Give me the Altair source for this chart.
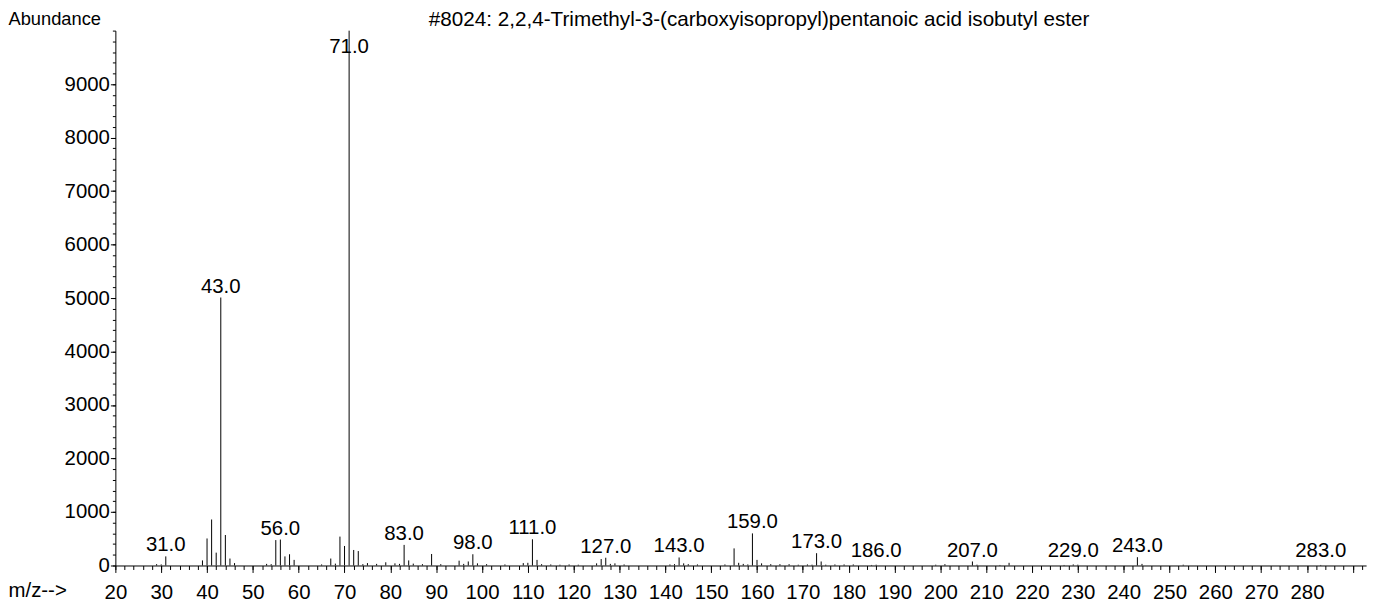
import altair as alt
import pandas as pd

# ---- data ----
mz = [29, 30, 31, 39, 40, 41, 42, 43, 44, 45, 46, 53, 54, 55, 56, 57, 58, 59,
      65, 67, 68, 69, 70, 71, 72, 73, 74, 75, 77, 79, 81, 82, 83, 84, 85, 87,
      89, 91, 95, 96, 97, 98, 99, 101, 105, 109, 110, 111, 112, 113, 115, 117,
      119, 121, 125, 126, 127, 128, 129, 131, 141, 142, 143, 144, 145, 147,
      153, 155, 156, 157, 158, 159, 160, 161, 163, 165, 167, 169, 171, 172,
      173, 174, 175, 177, 179, 181, 185, 186, 199, 201, 207, 208, 213, 215,
      227, 229, 230, 243, 244, 253, 283]
abundance = [25, 20, 170, 95, 505, 860, 240, 5010, 570, 130, 45, 30, 25, 475, 485, 170, 210, 105,
             20, 130, 35, 540, 365, 9999, 290, 270, 25, 45, 30, 60, 40, 30, 385, 95, 35, 25,
             215, 25, 90, 30, 75, 210, 40, 25, 20, 45, 50, 490, 105, 25, 20, 15,
             20, 15, 40, 120, 145, 30, 40, 20, 20, 25, 150, 40, 25, 20,
             20, 320, 50, 30, 20, 600, 105, 40, 25, 25, 25, 15, 20, 15,
             230, 75, 15, 20, 20, 20, 10, 15, 15, 25, 75, 15, 10, 50,
             10, 20, 15, 155, 30, 15, 10]
label_mz = [31, 43, 56, 71, 83, 98, 111, 127, 143, 159, 173, 186, 207, 229, 243, 283]
title_text = "#8024: 2,2,4-Trimethyl-3-(carboxyisopropyl)pentanoic acid isobutyl ester"
x_major = list(range(20, 291, 10))
x_minor = list(range(20, 293, 2))
y_major = list(range(0, 9001, 1000))
y_minor = list(range(0, 10001, 200))

FONT = "Liberation Sans"
TICK_FS = 20.5

peaks = pd.DataFrame({"mz": mz, "abund": abundance})
lut = dict(zip(mz, abundance))
labels = pd.DataFrame({
    "mz": label_mz,
    "abund": [lut[m] for m in label_mz],
    "txt": [f"{m:.1f}" for m in label_mz],
})

xscale = alt.Scale(domain=[20, 292.9], nice=False, zero=False)
yscale = alt.Scale(domain=[0, 10000], nice=False)

bars = alt.Chart(peaks).mark_rule(color="black", strokeWidth=1).encode(
    x=alt.X("mz:Q", scale=xscale, axis=alt.Axis(
        orient="bottom", values=x_major, format="d", tickSize=7, labelPadding=10,
        labelFontSize=TICK_FS, labelFont=FONT, labelColor="black",
        labelExpr="datum.value > 285 ? '' : datum.label",
        domainColor="black", tickColor="black", grid=False,
        labelFlush=False, labelOverlap=False,
        title="m/z-->", titleX=-108, titleY=25, titleAlign="left",
        titleBaseline="middle", titleFont=FONT, titleFontSize=TICK_FS,
        titleFontWeight="normal", titleColor="black")),
    y=alt.Y("abund:Q", scale=yscale, axis=alt.Axis(
        orient="left", values=y_major, format="d", tickSize=5, labelPadding=1,
        labelFontSize=TICK_FS, labelFont=FONT, labelColor="black",
        domainColor="black", tickColor="black", grid=False,
        labelFlush=False, labelOverlap=False,
        title="Abundance", titleX=-108, titleY=-12, titleAngle=0,
        titleAlign="left", titleBaseline="middle", titleFont=FONT,
        titleFontSize=18.4, titleFontWeight="normal", titleColor="black")),
    y2=alt.datum(0),
)

texts = alt.Chart(labels).mark_text(
    font=FONT, fontSize=TICK_FS, baseline="alphabetic", align="center", dy=-5, color="black"
).transform_calculate(
    ly="clamp(datum.abund, 70, 9480)"
).encode(
    x=alt.X("mz:Q", scale=xscale, axis=alt.Axis(
        orient="bottom", values=x_minor, tickSize=4, labels=False, domain=False,
        grid=False, tickColor="black", title="")),
    y=alt.Y("ly:Q", scale=yscale, axis=alt.Axis(
        orient="left", values=y_minor, tickSize=3, labels=False, domain=False,
        grid=False, tickColor="black",
        title=title_text, titleX=647, titleY=-11, titleAngle=0,
        titleAlign="center", titleBaseline="middle", titleFont=FONT,
        titleFontSize=20.8, titleFontWeight="normal", titleColor="black")),
    text="txt:N",
)

chart = alt.layer(bars, texts).resolve_axis(
    x="independent", y="independent"
).properties(
    width=1258, height=538,
    padding={"left": 108, "top": 21, "right": 17, "bottom": 38},
    autosize=alt.AutoSizeParams(type="none"),
).configure_view(stroke="transparent")

chart.save("out.html", embed_options={"renderer": "svg", "actions": False})
